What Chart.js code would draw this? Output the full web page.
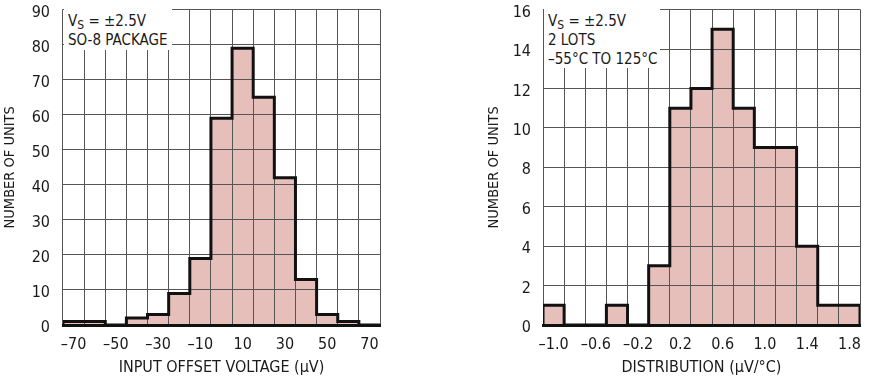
<!DOCTYPE html>
<html>
<head>
<meta charset="utf-8">
<script src="https://cdn.jsdelivr.net/npm/chart.js@4.4.1/dist/chart.umd.min.js"></script>
<style>
  html, body { margin: 0; padding: 0; background: #fff; }
  #wrap { position: relative; width: 879px; height: 379px; overflow: hidden; }
  canvas { position: absolute; top: 0; }
  .note {
    position: absolute; background: #fff; color: #1a1a1a;
    font-family: "Liberation Sans Narrow", "Arial Narrow", "DejaVu Sans Condensed", sans-serif;
    font-size: 15px; line-height: 18.3px; white-space: nowrap; box-sizing: border-box;
  }
  .note .sub { font-size: 12px; position: relative; top: 3px; }
</style>
</head>
<body>
<div id="wrap">
  <canvas id="c1" width="440" height="379" style="left:0"></canvas>
  <canvas id="c2" width="439" height="379" style="left:440px"></canvas>
  <div class="note" style="left:64px; top:9px; width:108px; height:41px; padding:3px 0 0 4px;">V<span class="sub">S</span> = ±2.5V<br>SO-8 PACKAGE</div>
  <div class="note" style="left:544px; top:9px; width:116px; height:59px; padding:3px 0 0 4px;">V<span class="sub">S</span> = ±2.5V<br>2 LOTS<br>–55°C TO 125°C</div>
</div>
<script>
// ---- data ----
const offsetCategories = ['–70','–60','–50','–40','–30','–20','–10','0','10','20','30','40','50','60','70'];
const offsetCounts     = [1, 1, 0, 2, 3, 9, 19, 59, 79, 65, 42, 13, 3, 1, 0];
const offsetYMax = 90, offsetYStep = 10;

const driftCategories = ['–1.0','–0.8','–0.6','–0.4','–0.2','0','0.2','0.4','0.6','0.8','1.0','1.2','1.4','1.6','1.8'];
const driftCounts     = [1, 0, 0, 1, 0, 3, 11, 12, 15, 11, 9, 9, 4, 1, 1];
const driftYMax = 16, driftYStep = 2;

const FONT = '"Liberation Sans Narrow", "Arial Narrow", "DejaVu Sans Condensed", sans-serif';
const TXT = '#1a1a1a';
const PINK = '#e6bfbb';
const GRID = '#555555';

const gridOnTop = {
  id: 'gridOnTop',
  afterDatasetDraw(chart, args) {
    if (args.index !== 1) return;
    chart.ctx.save();
    chart.scales.y.drawGrid(chart.chartArea);
    chart.scales.x.drawGrid(chart.chartArea);
    chart.scales.x.drawBorder();
    chart.ctx.restore();
  }
};

function outline(counts) {
  const pts = [{x: -0.5, y: 0}];
  counts.forEach((v, i) => { pts.push({x: i - 0.5, y: v}); pts.push({x: i + 0.5, y: v}); });
  pts.push({x: counts.length - 0.5, y: 0});
  return pts;
}

function makeChart(id, o) {
  return new Chart(document.getElementById(id), {
    type: 'bar',
    data: {
      labels: o.cats,
      datasets: [
        { type: 'line', data: outline(o.counts), xAxisID: 'xl', yAxisID: 'y',
          borderColor: '#111', borderWidth: 3, pointRadius: 0, fill: false,
          tension: 0, borderJoinStyle: 'miter', order: 0 },
        { type: 'bar', data: o.counts, xAxisID: 'x', yAxisID: 'y',
          backgroundColor: PINK, borderWidth: 0, grouped: false,
          barPercentage: 1, categoryPercentage: 1, order: 1 }
      ]
    },
    plugins: [gridOnTop],
    options: {
      responsive: false, animation: false, devicePixelRatio: 1,
      layout: { autoPadding: false, padding: { left: 0, top: 8, right: o.rightPad, bottom: 0 } },
      plugins: { legend: { display: false }, tooltip: { enabled: false } },
      scales: {
        x: {
          type: 'category', offset: true,
          grid: { offset: true, color: GRID, lineWidth: 1, drawTicks: false },
          border: { display: true, color: '#111', width: 3 },
          ticks: { autoSkip: false, maxRotation: 0, minRotation: 0, padding: 10,
                   color: TXT, font: { family: FONT, size: 16 },
                   callback: function(v, i) { return i % 2 === 0 ? this.getLabelForValue(v) : ''; } },
          title: { display: true, text: o.xTitle, color: TXT, font: { family: FONT, size: 16 },
                   padding: { top: 0, bottom: 2 } },
          afterFit: s => { s.height = 54; }
        },
        xl: { type: 'linear', display: false, offset: false, grid: { offset: false },
              min: -0.5, max: o.cats.length - 0.5 },
        y: {
          min: 0, max: o.yMax,
          grid: { color: GRID, lineWidth: 1, drawTicks: true, tickLength: o.tickPad,
                  tickColor: 'rgba(0,0,0,0)' },
          border: { display: false },
          ticks: { stepSize: o.yStep, padding: 0, labelOffset: 3, color: TXT,
                   font: { family: FONT, size: 16 } },
          title: { display: true, text: 'NUMBER OF UNITS', color: TXT,
                   font: { family: FONT, size: 14.5 }, padding: { top: o.titlePad, bottom: 0 } },
          afterFit: s => { s.width = o.axisW; }
        }
      }
    }
  });
}

makeChart('c1', { cats: offsetCategories, counts: offsetCounts, yMax: offsetYMax, yStep: offsetYStep,
  xTitle: 'INPUT OFFSET VOLTAGE (µV)', axisW: 63, rightPad: 60, tickPad: 13, titlePad: 2 });
makeChart('c2', { cats: driftCategories, counts: driftCounts, yMax: driftYMax, yStep: driftYStep,
  xTitle: 'DISTRIBUTION (µV/°C)', axisW: 103, rightPad: 19, tickPad: 12, titlePad: 46 });
</script>
</body>
</html>
